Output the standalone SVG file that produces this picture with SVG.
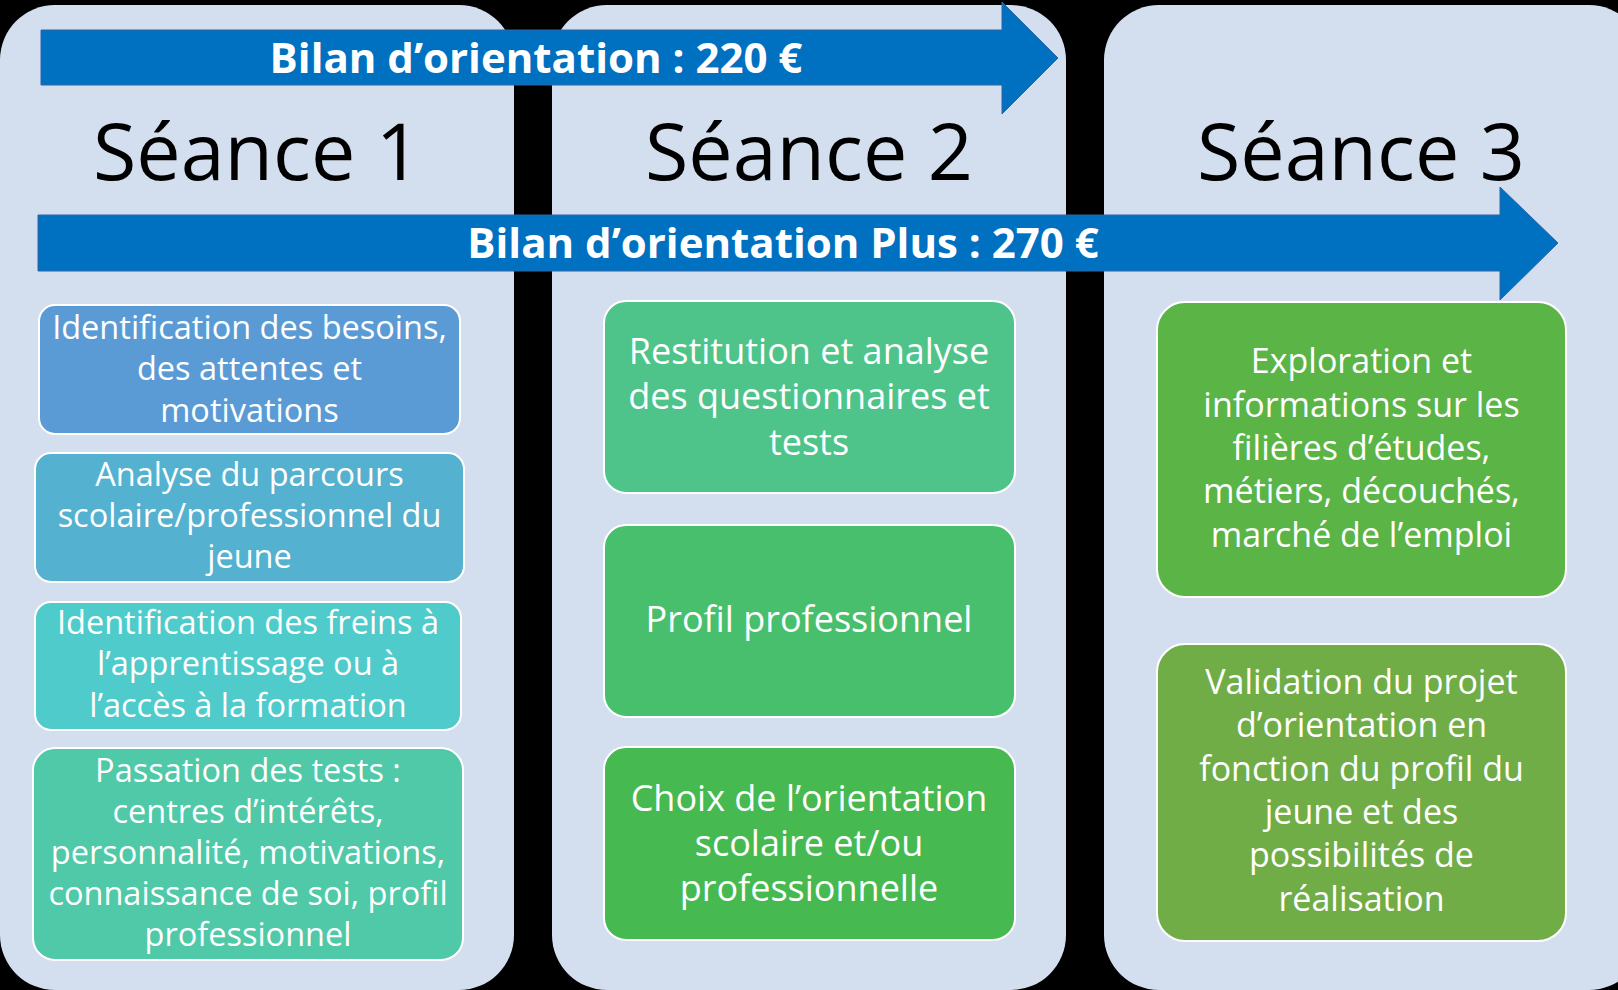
<svg xmlns="http://www.w3.org/2000/svg" width="1618" height="990" viewBox="0 0 1618 990">
  <style>
    .col { fill: #D3DEEF; }
    .arrow { fill: #0070C0; stroke: #2F64A8; stroke-width: 1; }
    .atext { font-family: "Open Sans", "Liberation Sans", sans-serif; font-weight: bold; font-size: 42px; fill: #FFFFFF; text-anchor: middle; }
    .title { font-family: "Open Sans", "Liberation Sans", sans-serif; font-size: 79px; fill: #000000; text-anchor: middle; }
    .box { stroke: #FFFFFF; stroke-width: 2; }
    .t1 { font-family: "Open Sans", "Liberation Sans", sans-serif; font-size: 32.5px; fill: #FFFFFF; text-anchor: middle; }
    .t2 { font-family: "Open Sans", "Liberation Sans", sans-serif; font-size: 36px; fill: #FFFFFF; text-anchor: middle; }
    .t3 { font-family: "Open Sans", "Liberation Sans", sans-serif; font-size: 34px; fill: #FFFFFF; text-anchor: middle; }
  </style>
  <rect x="0" y="0" width="1618" height="990" fill="#000000"/>

  <g id="seance1">
    <rect class="col" x="0" y="5" width="514" height="985" rx="55"/>
    <text class="title" x="257" y="180">Séance 1</text>
  </g>
  <g id="seance2">
    <rect class="col" x="552" y="5" width="514" height="985" rx="55"/>
    <text class="title" x="809" y="180">Séance 2</text>
  </g>
  <g id="seance3">
    <rect class="col" x="1104" y="5" width="540" height="985" rx="55"/>
    <text class="title" x="1361" y="180">Séance 3</text>
  </g>

  <g id="connectors">
    <g id="bilan">
      <path class="arrow" d="M41,30 H1002 V2 L1058,58 L1002,114 V85 H41 Z"/>
      <text class="atext" x="536" y="73">Bilan d’orientation : 220 €</text>
    </g>
    <g id="bilan-plus">
      <path class="arrow" d="M38,215 H1500 V187 L1558,243 L1500,300 V271 H38 Z"/>
      <text class="atext" x="783" y="258">Bilan d’orientation Plus : 270 €</text>
    </g>
  </g>

  <g id="s1-besoins">
    <rect class="box" x="39" y="305" width="421" height="129" rx="16" fill="#5B9BD5"/>
    <text class="t1" x="249.5"><tspan x="249.5" y="339">Identification des besoins,</tspan><tspan x="249.5" y="380">des attentes et</tspan><tspan x="249.5" y="422">motivations</tspan></text>
  </g>
  <g id="s1-parcours">
    <rect class="box" x="35" y="453" width="429" height="129" rx="16" fill="#54B1D0"/>
    <text class="t1"><tspan x="249.5" y="486">Analyse du parcours</tspan><tspan x="249.5" y="527">scolaire/professionnel du</tspan><tspan x="249.5" y="568">jeune</tspan></text>
  </g>
  <g id="s1-freins">
    <rect class="box" x="35" y="602" width="426" height="128" rx="16" fill="#4FCBCB"/>
    <text class="t1"><tspan x="248" y="634">Identification des freins à</tspan><tspan x="248" y="675">l’apprentissage ou à</tspan><tspan x="248" y="717">l’accès à la formation</tspan></text>
  </g>
  <g id="s1-tests">
    <rect class="box" x="33" y="748" width="430" height="212" rx="22" fill="#4FC9A7"/>
    <text class="t1"><tspan x="248" y="782">Passation des tests :</tspan><tspan x="248" y="823">centres d’intérêts,</tspan><tspan x="248" y="864">personnalité, motivations,</tspan><tspan x="248" y="905">connaissance de soi, profil</tspan><tspan x="248" y="946">professionnel</tspan></text>
  </g>

  <g id="s2-restitution">
    <rect class="box" x="604" y="301" width="411" height="192" rx="22" fill="#4EC48B"/>
    <text class="t2"><tspan x="809" y="364">Restitution et analyse</tspan><tspan x="809" y="409">des questionnaires et</tspan><tspan x="809" y="455">tests</tspan></text>
  </g>
  <g id="s2-profil">
    <rect class="box" x="604" y="525" width="411" height="192" rx="22" fill="#48BF6C"/>
    <text class="t2" x="809" y="632">Profil professionnel</text>
  </g>
  <g id="s2-choix">
    <rect class="box" x="604" y="747" width="411" height="193" rx="22" fill="#46B951"/>
    <text class="t2"><tspan x="809" y="811">Choix de l’orientation</tspan><tspan x="809" y="856">scolaire et/ou</tspan><tspan x="809" y="901">professionnelle</tspan></text>
  </g>

  <g id="s3-exploration">
    <rect class="box" x="1157" y="302" width="409" height="295" rx="28" fill="#5AB446"/>
    <text class="t3"><tspan x="1361.5" y="373">Exploration et</tspan><tspan x="1361.5" y="417">informations sur les</tspan><tspan x="1361.5" y="460">filières d’études,</tspan><tspan x="1361.5" y="503">métiers, découchés,</tspan><tspan x="1361.5" y="547">marché de l’emploi</tspan></text>
  </g>
  <g id="s3-validation">
    <rect class="box" x="1157" y="644" width="409" height="297" rx="28" fill="#70AD47"/>
    <text class="t3"><tspan x="1361.5" y="694">Validation du projet</tspan><tspan x="1361.5" y="737">d’orientation en</tspan><tspan x="1361.5" y="781">fonction du profil du</tspan><tspan x="1361.5" y="824">jeune et des</tspan><tspan x="1361.5" y="867">possibilités de</tspan><tspan x="1361.5" y="911">réalisation</tspan></text>
  </g>
</svg>
